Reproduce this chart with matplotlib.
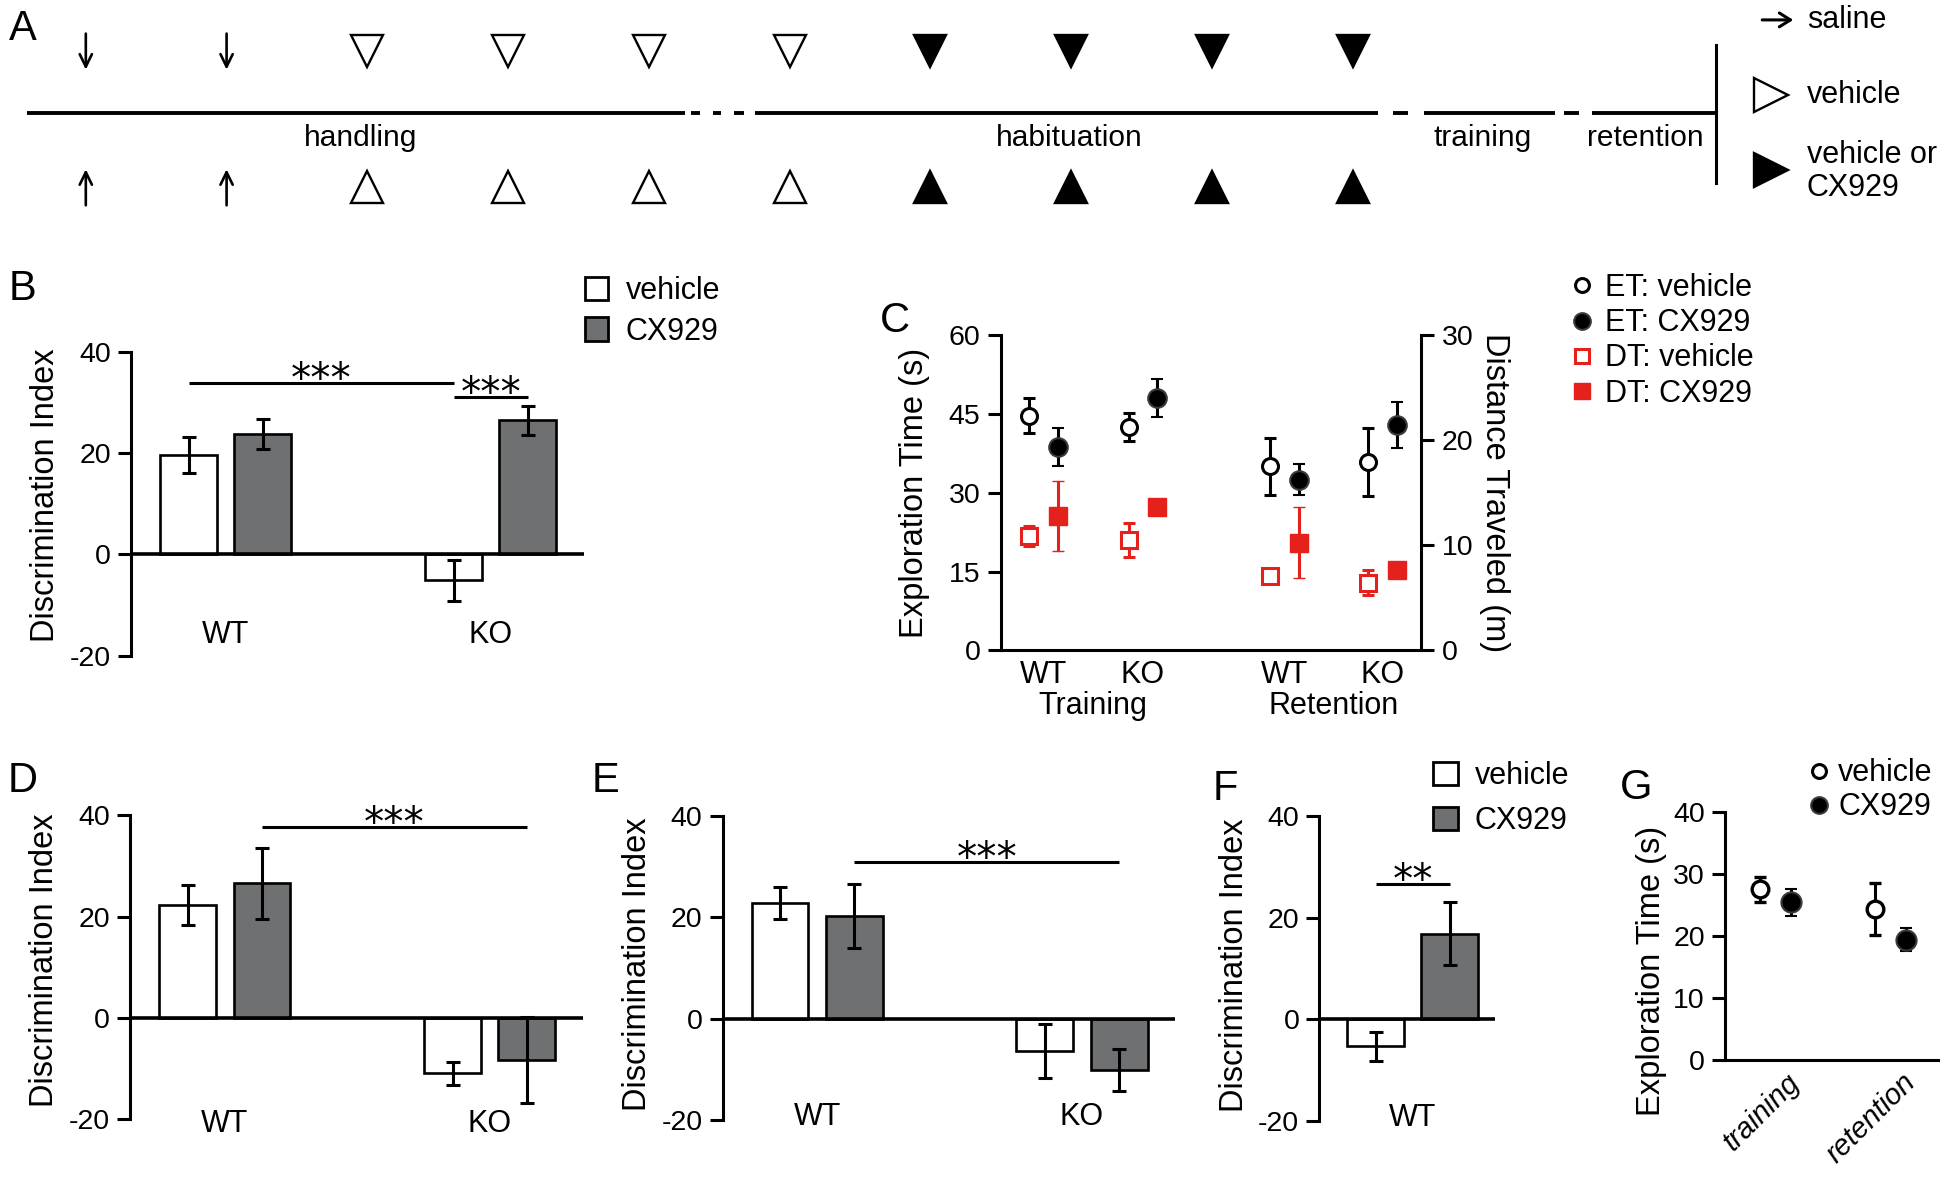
import numpy as np
import matplotlib
matplotlib.use('Agg')
import matplotlib.pyplot as plt
from matplotlib.patches import Patch
from matplotlib.lines import Line2D
from matplotlib.transforms import ScaledTranslation

plt.rcParams['font.family'] = ['Liberation Sans', 'DejaVu Sans']
plt.rcParams['font.size'] = 21
plt.rcParams['axes.unicode_minus'] = False
plt.rcParams['axes.linewidth'] = 2.2
for a in ('xtick', 'ytick'):
    plt.rcParams[a + '.major.width'] = 2.2
    plt.rcParams[a + '.major.size'] = 9.5
    plt.rcParams[a + '.major.pad'] = 5
    plt.rcParams[a + '.labelsize'] = 20.5

# ---- data ----
groups = ['WT', 'KO']
b_veh, b_veh_err = [19.7, -5.1], [3.6, 4.0]
b_cx, b_cx_err = [23.8, 26.5], [2.9, 2.9]

d_veh, d_veh_err = [22.3, -11.0], [4.0, 2.3]
d_cx, d_cx_err = [26.6, -8.4], [7.0, 8.5]

e_veh, e_veh_err = [22.9, -6.4], [3.2, 5.3]
e_cx, e_cx_err = [20.2, -10.2], [6.3, 4.2]

f_groups = ['WT']
f_veh, f_veh_err = [-5.4], [2.8]
f_cx, f_cx_err = [16.8], [6.2]

c_groups = ['WT', 'KO', 'WT', 'KO']
c_phases = ['Training', 'Retention']
et_veh, et_veh_err = [44.7, 42.5, 35.0, 35.8], [3.4, 2.6, 5.4, 6.5]
et_cx, et_cx_err = [38.7, 48.0, 32.5, 42.9], [3.6, 3.6, 2.9, 4.4]
dt_veh, dt_veh_err = [10.85, 10.5, 7.1, 6.45], [0.95, 1.65, 0.4, 1.2]
dt_cx, dt_cx_err = [12.8, 13.65, 10.25, 7.6], [3.3, 0.5, 3.4, 0.4]

g_phases = ['training', 'retention']
g_veh, g_veh_err = [27.5, 24.4], [2.0, 4.2]
g_cx, g_cx_err = [25.4, 19.4], [2.1, 1.9]

# schedule for panel A
a_days = ['saline'] * 2 + ['vehicle'] * 4 + ['drug'] * 4
a_phases = ['handling', 'habituation', 'training', 'retention']

grey = '#6f7072'
red = '#e4221b'
bw, off = 0.215, 0.14
LAB = 23.5

W, H = 1568, 946
fig = plt.figure(figsize=(19.5, 11.77), dpi=100)


def px(l, t, r, b):
    return [l / W, 1 - b / H, (r - l) / W, (b - t) / H]


def stars(ax, x1, x2, y, txt):
    ax.plot([x1, x2], [y, y], color='k', lw=2.2, clip_on=False, solid_capstyle='butt')
    ax.annotate(txt, xy=((x1 + x2) / 2, y), xytext=(0, -6.5), textcoords='offset points',
                ha='center', va='baseline', fontsize=29, family='DejaVu Sans', annotation_clip=False)


def bar_panel(box, veh, veh_err, cx, cx_err, names, xlim, name_y, ylab_xy):
    ax = fig.add_axes(px(*box))
    x = np.arange(len(veh))
    ax.bar(x - off, veh, bw, color='white', edgecolor='k', linewidth=1.9, zorder=2)
    ax.bar(x + off, cx, bw, color=grey, edgecolor='k', linewidth=1.9, zorder=2)
    for xs, v, e in ((x - off, veh, veh_err), (x + off, cx, cx_err)):
        ax.errorbar(xs, v, yerr=e, fmt='none', ecolor='k', elinewidth=2.2,
                    capsize=5, capthick=2.2, zorder=3)
    ax.axhline(0, color='k', lw=2.6, zorder=4)
    ax.set_xlim(*xlim)
    ax.set_ylim(-20, 40)
    ax.set_yticks([-20, 0, 20, 40])
    ax.set_xticks([])
    for s in ('top', 'right', 'bottom'):
        ax.spines[s].set_visible(False)
    for xi, n in zip(x, names):
        ax.text(xi, name_y, n, ha='center', va='center', fontsize=22)
    ax.set_ylabel('Discrimination Index', fontsize=LAB, rotation=90, va='center', ha='center')
    ax.yaxis.set_label_coords(*ylab_xy)
    return ax


def legend_at(ax, handles, labels, left, top, **kw):
    ax.legend(handles, labels, loc='upper left', bbox_to_anchor=(left / W, 1 - top / H),
              bbox_transform=fig.transFigure, frameon=False, borderpad=0,
              borderaxespad=0, fontsize=22, **kw)


# ---- panel A ----
axA = fig.add_axes(px(0, 0, W, 190))
axA.set_xlim(0, W)
axA.set_ylim(190, 0)
axA.axis('off')
day_x = 69 + 113.2 * np.arange(len(a_days))
arrow = dict(arrowstyle='->,head_length=0.45,head_width=0.22', lw=1.9,
             mutation_scale=20, shrinkA=0, shrinkB=0)
for xd, kind in zip(day_x, a_days):
    if kind == 'saline':
        axA.annotate('', xy=(xd, 56), xytext=(xd, 27), arrowprops=arrow)
        axA.annotate('', xy=(xd, 136), xytext=(xd, 165), arrowprops=arrow)
    else:
        fc = 'white' if kind == 'vehicle' else 'black'
        axA.plot(xd, 41, marker='v', ms=23, mfc=fc, mec='k', mew=1.7)
        axA.plot(xd, 150, marker='^', ms=23, mfc=fc, mec='k', mew=1.7)
for x1, x2 in [(22, 551), (607, 1108), (1145, 1250), (1280, 1380)]:
    axA.plot([x1, x2], [91, 91], color='k', lw=2.8, solid_capstyle='butt')
for x1, x2 in [(556, 563), (573, 580), (590, 598), (1120, 1132), (1258, 1270)]:
    axA.plot([x1, x2], [91, 91], color='k', lw=2.8, solid_capstyle='butt')
axA.plot([1380, 1380], [36, 147], color='k', lw=2.2)
for name, xp in zip(a_phases, [290, 860, 1192, 1323]):
    axA.text(xp, 111, name, ha='center', va='center', fontsize=21.5)
axA.annotate('', xy=(1442, 16), xytext=(1417, 16),
             arrowprops=dict(arrowstyle='->,head_length=0.4,head_width=0.25', lw=2.2,
                             mutation_scale=20, shrinkA=0, shrinkB=0))
axA.text(1453, 16, 'saline', ha='left', va='center', fontsize=22)
axA.plot(1424, 76, marker='>', ms=24, mfc='white', mec='k', mew=1.7)
axA.text(1453, 76, 'vehicle', ha='left', va='center', fontsize=22)
axA.plot(1424, 137, marker='>', ms=24, mfc='black', mec='k', mew=1.7)
axA.text(1453, 138, 'vehicle or\nCX929', ha='left', va='center', fontsize=22, linespacing=1.12)

# ---- panel B ----
axB = bar_panel((105.5, 283, 469.5, 527), b_veh, b_veh_err, b_cx, b_cx_err, groups,
                (-0.357, 1.352), -16, (-0.19, 0.53))
stars(axB, -off, 1 - off, 33.9, '***')
stars(axB, 1 - off, 1 + off, 31.1, '***')
legend_at(axB, [Patch(fc='white', ec='k', lw=2), Patch(fc=grey, ec='k', lw=2)],
          ['vehicle', 'CX929'], 470, 222, handlelength=0.77, handleheight=0.81,
          handletextpad=0.57, labelspacing=0.34)

# ---- panel C ----
axC = fig.add_axes(px(804.7, 269.4, 1143, 522.7))
xc = np.array([1, 2, 3.425, 4.41])
oc = 0.144
ax2 = axC.twinx()
ax2.errorbar(xc - oc, dt_veh, yerr=dt_veh_err, fmt='s', ms=11.5, mfc='white', mec=red, mew=2.2,
             ecolor=red, elinewidth=2.2, capsize=4.5, capthick=2.2)
ax2.errorbar(xc + oc, dt_cx, yerr=dt_cx_err, fmt='s', ms=13.4, mfc=red, mec=red, mew=1,
             ecolor=red, elinewidth=2.2, capsize=4.5, capthick=2.2)
axC.errorbar(xc - oc, et_veh, yerr=et_veh_err, fmt='o', ms=11.5, mfc='white', mec='k', mew=2.2,
             ecolor='k', elinewidth=2.2, capsize=4.5, capthick=2.2)
axC.errorbar(xc + oc, et_cx, yerr=et_cx_err, fmt='o', ms=13.4, mfc='black', mec='#3a3a3a', mew=1.5,
             ecolor='k', elinewidth=2.2, capsize=4.5, capthick=2.2)
axC.set_zorder(ax2.get_zorder() + 1)
axC.patch.set_visible(False)
axC.set_xlim(0.571, 4.8)
axC.set_ylim(0, 60)
axC.set_yticks([0, 15, 30, 45, 60])
ax2.set_ylim(0, 30)
ax2.set_yticks([0, 10, 20, 30])
axC.spines['top'].set_visible(False)
axC.spines['right'].set_visible(False)
for s in ('top', 'left', 'bottom'):
    ax2.spines[s].set_visible(False)
axC.set_xticks(xc)
axC.set_xticklabels(c_groups, fontsize=22)
axC.tick_params(axis='x', length=0, pad=7)
for name, xm in zip(c_phases, [xc[:2].mean(), xc[2:].mean()]):
    axC.text(xm, -0.177, name, ha='center', va='center', fontsize=22,
             transform=axC.get_xaxis_transform())
axC.set_ylabel('Exploration Time (s)', fontsize=LAB, va='center', ha='center')
axC.yaxis.set_label_coords(-0.206, 0.5)
ax2.set_ylabel('Distance Traveled (m)', fontsize=LAB, rotation=270, va='center', ha='center')
ax2.yaxis.set_label_coords(1.173, 0.5)
legend_at(axC,
          [Line2D([], [], ls='none', marker='o', ms=10, mfc='white', mec='k', mew=2.2),
           Line2D([], [], ls='none', marker='o', ms=12, mfc='black', mec='#3a3a3a', mew=1.5),
           Line2D([], [], ls='none', marker='s', ms=10, mfc='white', mec=red, mew=2.2),
           Line2D([], [], ls='none', marker='s', ms=12, mfc=red, mec=red)],
          ['ET: vehicle', 'ET: CX929', 'DT: vehicle', 'DT: CX929'], 1262.2, 219.5,
          handlelength=0.8, handletextpad=0.36, labelspacing=0.17)

# ---- panel D ----
axD = bar_panel((104.8, 655.4, 468.8, 899.3), d_veh, d_veh_err, d_cx, d_cx_err, groups,
                (-0.357, 1.352), -21, (-0.19, 0.522))
stars(axD, off, 1 + off, 37.7, '***')

# ---- panel E ----
axE = bar_panel((581, 656, 945, 900), e_veh, e_veh_err, e_cx, e_cx_err, groups,
                (-0.357, 1.352), -19.5, (-0.187, 0.512))
stars(axE, off, 1 + off, 31.0, '***')

# ---- panel F ----
axF = bar_panel((1061, 656, 1202, 900.6), f_veh, f_veh_err, f_cx, f_cx_err, f_groups,
                (-0.352, 0.31), -19.5, (-0.482, 0.512))
stars(axF, -off, off, 26.6, '**')
legend_at(axF, [Patch(fc='white', ec='k', lw=2), Patch(fc=grey, ec='k', lw=2)],
          ['vehicle', 'CX929'], 1152.6, 611.6, handlelength=0.79, handleheight=0.81,
          handletextpad=0.57, labelspacing=0.5)

# ---- panel G ----
axG = fig.add_axes(px(1387, 652.7, 1558.7, 851.8))
xg = np.arange(1, len(g_phases) + 1)
og = 0.134
axG.errorbar(xg - og, g_veh, yerr=g_veh_err, fmt='o', ms=12, mfc='white', mec='k', mew=2.4,
             ecolor='k', elinewidth=2.2, capsize=4.5, capthick=2.2)
axG.errorbar(xg + og, g_cx, yerr=g_cx_err, fmt='o', ms=14.5, mfc='black', mec='#3a3a3a', mew=1.5,
             ecolor='k', elinewidth=2.2, capsize=4.5, capthick=2.2)
axG.set_xlim(0.565, 2.41)
axG.set_ylim(0, 40)
axG.set_yticks([0, 10, 20, 30, 40])
axG.spines['top'].set_visible(False)
axG.spines['right'].set_visible(False)
axG.set_xticks(xg)
axG.set_xticklabels(g_phases, rotation=45, ha='right', va='top', style='italic', fontsize=21)
axG.tick_params(axis='x', length=0, pad=6)
for lab in axG.get_xticklabels():
    lab.set_transform(lab.get_transform() + ScaledTranslation(21.5 / 72, 0, fig.dpi_scale_trans))
axG.set_ylabel('Exploration Time (s)', fontsize=LAB, va='center', ha='center')
axG.yaxis.set_label_coords(-0.344, 0.36)
legend_at(axG,
          [Line2D([], [], ls='none', marker='o', ms=10, mfc='white', mec='k', mew=2.2),
           Line2D([], [], ls='none', marker='o', ms=12, mfc='black', mec='#3a3a3a', mew=1.5)],
          ['vehicle', 'CX929'], 1455.6, 609.5, handlelength=0.6, handletextpad=0.31,
          labelspacing=0.13)

# panel letters
for letter, (lx, ly) in zip('ABCDEFG', [(18, 23), (18, 232), (720, 258), (18, 628),
                                        (487, 628), (985, 634), (1316, 633)]):
    fig.text(lx / W, 1 - ly / H, letter, fontsize=30, ha='center', va='center')

fig.savefig('out.png', dpi=100)
